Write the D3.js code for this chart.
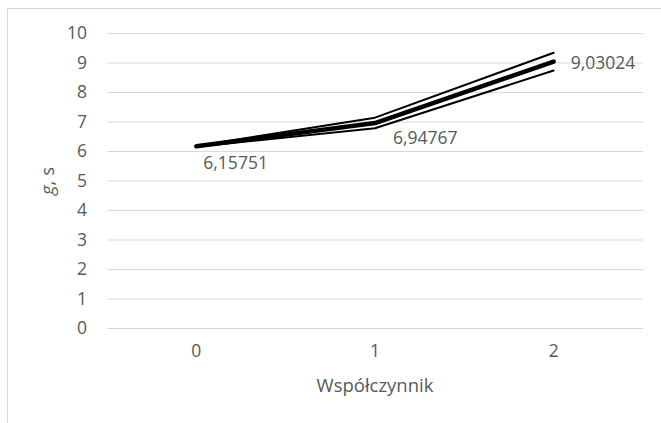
<!DOCTYPE html>
<html>
<head>
<meta charset="utf-8">
<script src="https://cdn.jsdelivr.net/npm/d3@7"></script>
<style>
  html, body { margin: 0; padding: 0; background: #fff; }
  svg { display: block; }
</style>
</head>
<body>
<svg id="chart"></svg>
<script>
// categories on the x axis
const categories = ["0", "1", "2"]
// main series (thick) and the two thin bounding lines
const seriesMid = [6.15751, 6.94767, 9.03024]
const seriesUpper = [6.17, 7.13, 9.33]
const seriesLower = [6.145, 6.77, 8.73]
const midLabels = ["6,15751", "6,94767", "9,03024"]
const yTicks = [0, 1, 2, 3, 4, 5, 6, 7, 8, 9, 10]

const width = 661, height = 423
const font = "'Open Sans', 'Noto Sans', sans-serif"
const textColor = "#595959"
const gridColor = "#d9d9d9"
const fs = 17.5

const svg = d3.select("#chart")
    .attr("width", width)
    .attr("height", height)
    .attr("font-family", font)

// chart frame (runs off the right / bottom edge of the picture)
svg.append("rect")
    .attr("x", 7.5).attr("y", 8.5)
    .attr("width", 720).attr("height", 500)
    .attr("fill", "none")
    .attr("stroke", gridColor)

const x = d3.scaleBand().domain(categories).range([107, 643]).padding(0)
const cx = d => x(d) + x.bandwidth() / 2
const y = d3.scaleLinear().domain([0, 10]).range([328, 33])

// gridlines + y labels
const yAxis = svg.append("g")
    .attr("transform", "translate(107,0)")
    .call(d3.axisLeft(y).tickValues(yTicks).tickSize(-536).tickPadding(20).tickFormat(d3.format("d")))
yAxis.select(".domain").remove()
yAxis.selectAll(".tick line").attr("stroke", gridColor).attr("stroke-width", 1.2)
yAxis.selectAll(".tick text")
    .attr("fill", textColor)
    .attr("font-size", fs)
    .attr("font-family", font)

// x labels
const xAxis = svg.append("g")
    .attr("transform", "translate(0,328)")
    .call(d3.axisBottom(x).tickSize(0).tickPadding(17))
xAxis.select(".domain").remove()
xAxis.selectAll(".tick text")
    .attr("fill", textColor)
    .attr("font-size", fs)
    .attr("font-family", font)

// axis titles
svg.append("text")
    .attr("x", 375).attr("y", 392)
    .attr("text-anchor", "middle")
    .attr("fill", textColor)
    .attr("font-size", 18.5)
    .text("Współczynnik")

const yTitle = svg.append("text")
    .attr("transform", "translate(54,181) rotate(-90)")
    .attr("text-anchor", "middle")
    .attr("fill", textColor)
    .attr("font-size", 18.5)
yTitle.append("tspan").attr("font-style", "italic").text("g")
yTitle.append("tspan").text(", s")

// lines
const line = d3.line()
    .x((d, i) => cx(categories[i]))
    .y(d => y(d))

const lines = [
    {values: seriesUpper, w: 2},
    {values: seriesLower, w: 2},
    {values: seriesMid, w: 4.5}
]
svg.append("g")
    .selectAll("path")
    .data(lines)
    .join("path")
    .attr("d", d => line(d.values))
    .attr("fill", "none")
    .attr("stroke", "#000")
    .attr("stroke-width", d => d.w)
    .attr("stroke-linecap", "round")
    .attr("stroke-linejoin", "round")

// data labels (placement offsets relative to the point)
const labelOffsets = [[7, 23], [18, 21], [17, 7]]
svg.append("g")
    .selectAll("text")
    .data(seriesMid)
    .join("text")
    .attr("x", (d, i) => cx(categories[i]) + labelOffsets[i][0])
    .attr("y", (d, i) => y(d) + labelOffsets[i][1])
    .attr("fill", textColor)
    .attr("font-size", fs)
    .text((d, i) => midLabels[i])
</script>
</body>
</html>
